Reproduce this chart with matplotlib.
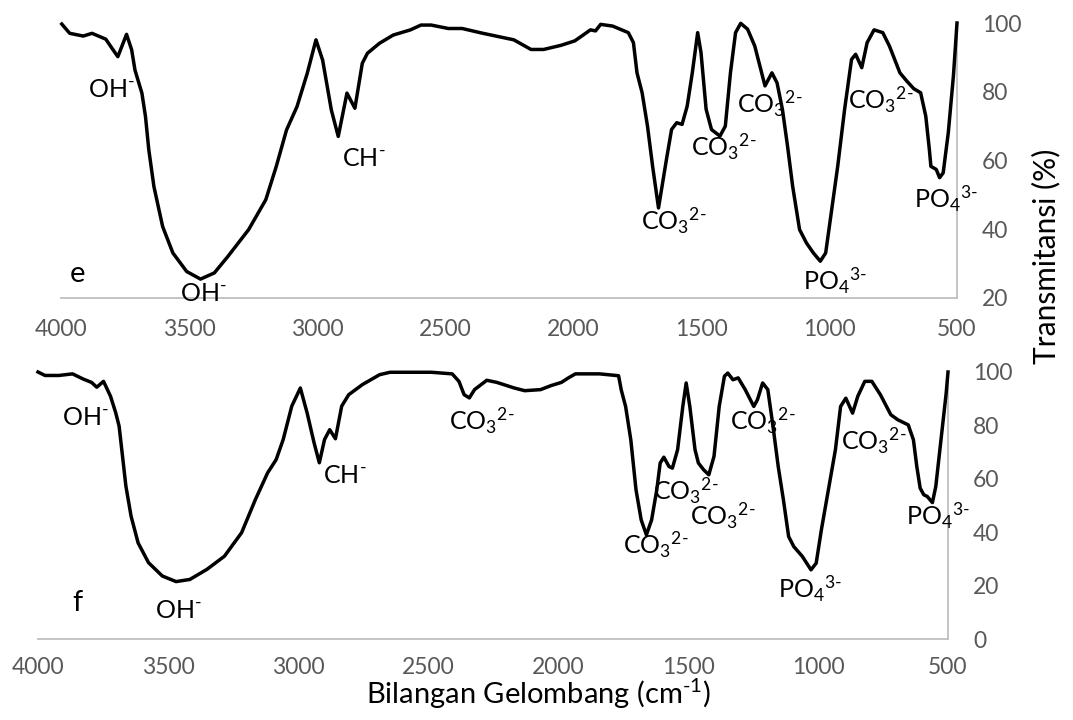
import matplotlib
matplotlib.use("Agg")
import matplotlib.pyplot as plt

plt.rcParams['font.family'] = ['Lato', 'DejaVu Sans']
plt.rcParams['mathtext.fontset'] = 'custom'
plt.rcParams['mathtext.rm'] = 'Lato'
plt.rcParams['mathtext.it'] = 'Lato'
plt.rcParams['mathtext.bf'] = 'Lato'

# ---- Spectrum e (top) ----
wn_e = [3997, 3966, 3913, 3879, 3825, 3805, 3778, 3744, 3724, 3711, 3684, 3670, 3657, 3637,
        3603, 3563, 3509, 3455, 3401, 3348, 3267, 3200, 3159, 3119, 3078, 3038, 3004, 2978,
        2944, 2917, 2883, 2852, 2823, 2803, 2756, 2702, 2635, 2594, 2554, 2487, 2433, 2352,
        2231, 2164, 2115, 2047, 1993, 1966, 1932, 1912, 1892, 1845, 1784, 1764, 1750, 1730,
        1709, 1689, 1666, 1635, 1615, 1595, 1574, 1554, 1534, 1513, 1500, 1480, 1459, 1426,
        1405, 1385, 1365, 1345, 1318, 1290, 1270, 1250, 1223, 1203, 1182, 1162, 1142, 1115,
        1088, 1061, 1034, 1013, 993, 966, 939, 912, 896, 872, 851, 824, 790, 764, 723, 696,
        669, 642, 622, 608, 602, 581, 568, 554, 534, 514, 500]
tr_e = [99.7, 97.0, 96.2, 97.0, 95.3, 93.1, 90.2, 96.7, 92.2, 86.3, 79.6, 72.8, 63.1, 52.4,
        40.8, 33.1, 27.7, 25.5, 27.3, 32.1, 39.9, 48.6, 58.3, 68.9, 75.7, 85.4, 95.1, 89.2,
        74.7, 67.0, 79.6, 75.2, 88.3, 91.2, 94.1, 96.5, 98.0, 99.4, 99.4, 98.4, 98.4, 97.0,
        95.1, 92.3, 92.3, 93.5, 94.8, 96.2, 98.0, 97.7, 99.6, 99.1, 97.2, 94.3, 85.5, 79.7,
        70.0, 58.3, 46.2, 60.3, 69.0, 71.0, 70.5, 75.8, 85.5, 97.2, 91.4, 74.9, 69.0, 67.1,
        70.0, 85.5, 97.2, 99.9, 98.2, 93.3, 87.5, 81.7, 85.5, 82.6, 74.9, 64.2, 52.5, 39.9,
        36.0, 33.1, 30.7, 33.1, 43.8, 58.3, 74.9, 89.4, 90.9, 87.0, 94.3, 98.0, 97.2, 93.3,
        85.5, 83.1, 80.9, 79.7, 72.9, 63.2, 58.3, 57.4, 55.0, 56.4, 68.1, 84.6, 100.0]

# ---- Spectrum f (bottom) ----
wn_f = [4000, 3973, 3920, 3867, 3827, 3794, 3774, 3748, 3721, 3701, 3688, 3675, 3662, 3642,
        3615, 3575, 3522, 3469, 3416, 3350, 3283, 3217, 3164, 3117, 3084, 3057, 3024, 2991,
        2965, 2938, 2918, 2898, 2878, 2856, 2832, 2805, 2752, 2686, 2646, 2487, 2407, 2381,
        2361, 2341, 2321, 2274, 2235, 2168, 2128, 2067, 2027, 1987, 1960, 1933, 1840, 1767,
        1757, 1740, 1720, 1700, 1680, 1660, 1640, 1620, 1607, 1593, 1573, 1560, 1540, 1520,
        1507, 1493, 1473, 1460, 1440, 1420, 1400, 1380, 1360, 1347, 1327, 1307, 1280, 1247,
        1233, 1213, 1193, 1173, 1153, 1133, 1113, 1093, 1060, 1027, 1007, 987, 960, 933, 913,
        893, 867, 847, 820, 793, 760, 720, 693, 653, 633, 620, 607, 593, 580, 560, 547, 527,
        507, 500]
tr_f = [100.0, 98.7, 98.7, 99.3, 97.4, 96.1, 94.3, 96.5, 90.9, 84.7, 79.7, 68.5, 57.3, 46.0,
        36.0, 28.6, 23.6, 21.5, 22.3, 26.1, 31.0, 39.8, 52.2, 62.2, 67.2, 74.7, 87.2, 94.0,
        84.7, 73.4, 66.0, 74.7, 78.4, 75.0, 87.2, 91.5, 95.3, 99.0, 99.9, 99.9, 99.3, 96.5,
        91.5, 90.3, 93.4, 96.9, 96.1, 94.0, 93.0, 93.4, 94.9, 96.1, 97.8, 99.3, 99.3, 98.6,
        93.4, 87.1, 74.6, 55.9, 44.6, 39.0, 44.6, 55.9, 65.9, 68.1, 64.6, 64.0, 70.9, 87.1,
        95.9, 87.1, 70.9, 65.9, 63.4, 61.5, 68.4, 87.1, 98.4, 99.6, 97.1, 97.8, 93.4, 87.1,
        89.6, 95.9, 93.4, 79.6, 64.6, 52.1, 38.4, 34.6, 30.9, 25.9, 28.4, 40.9, 55.9, 70.9,
        87.1, 90.2, 84.6, 90.9, 96.5, 96.5, 91.5, 84.0, 82.1, 80.2, 74.6, 64.6, 56.5, 54.0,
        53.4, 51.1, 57.1, 74.6, 92.1, 100.0]

# ---- Labels ----
x_ticks = [4000, 3500, 3000, 2500, 2000, 1500, 1000, 500]
y_ticks_e = [20, 40, 60, 80, 100]
y_ticks_f = [0, 20, 40, 60, 80, 100]

OH = r'OH$^{\text{-}}$'
CH = r'CH$^{\text{-}}$'
CO3 = r'CO$_3{}^{2\text{-}}$'
PO4 = r'PO$_4{}^{3\text{-}}$'

ann_e = [(OH, 3896, 78.4), (OH, 3536, 19.0), ('e', 3966, 24.8), (CH, 2904, 58.4),
         (CO3, 1736, 39.9), (CO3, 1541, 61.3), (CO3, 1358, 74.0), (PO4, 1101, 22.4),
         (CO3, 926, 75.0), (PO4, 669, 46.2)]
ann_f = [(OH, 3907, 80.3), (CH, 2905, 58.5), (CO3, 2420, 78.4), ('f', 3867, 10.5),
         (OH, 3549, 8.0), (CO3, 1749, 32.1), (CO3, 1633, 52.1), (CO3, 1493, 42.8),
         (CO3, 1340, 78.4), (PO4, 1153, 15.3), (CO3, 913, 70.9), (PO4, 660, 42.8)]

W, H = 1073, 720
fig = plt.figure(figsize=(W / 100, H / 100), dpi=100)

def px_axes(l, r, t, b):
    return fig.add_axes([l / W, 1 - b / H, (r - l) / W, (b - t) / H])

ax1 = px_axes(61, 957, 23, 298)
ax2 = px_axes(38, 948, 372, 639)

tick_color = '#595959'
axis_color = '#BFBFBF'

for ax, wn, tr, yt, ann, xpad in [(ax1, wn_e, tr_e, y_ticks_e, ann_e, 15),
                                  (ax2, wn_f, tr_f, y_ticks_f, ann_f, 13)]:
    ax.plot(wn, tr, color='black', lw=2.5, solid_joinstyle='round', clip_on=False, zorder=3)
    ax.set_xlim(4000, 500)
    ax.set_ylim(yt[0], yt[-1])
    ax.set_xticks(x_ticks)
    ax.set_yticks(yt)
    ax.yaxis.tick_right()
    for s in ['top', 'left']:
        ax.spines[s].set_visible(False)
    for s in ['bottom', 'right']:
        ax.spines[s].set_color(axis_color)
        ax.spines[s].set_linewidth(1.3)
    ax.tick_params(axis='both', length=0, labelsize=16.5, labelcolor=tick_color)
    ax.tick_params(axis='x', pad=xpad)
    ax.tick_params(axis='y', pad=18)
    ax.patch.set_visible(False)
    for txt, x, y in ann:
        size = 21 if txt in ('e', 'f') else 18
        ax.text(x, y, txt, fontsize=size, ha='left', va='baseline', color='black',
                clip_on=False, zorder=4)

fig.text(1046 / W, 1 - 256 / H, 'Transmitansi (%)', rotation=90, ha='center', va='center',
         fontsize=21.5, color='black')
fig.text(538 / W, 1 - 704 / H, r'Bilangan Gelombang (cm$^{\text{-}1}$)', ha='center',
         va='baseline', fontsize=21, color='black')

fig.savefig('out.png', dpi=100)
